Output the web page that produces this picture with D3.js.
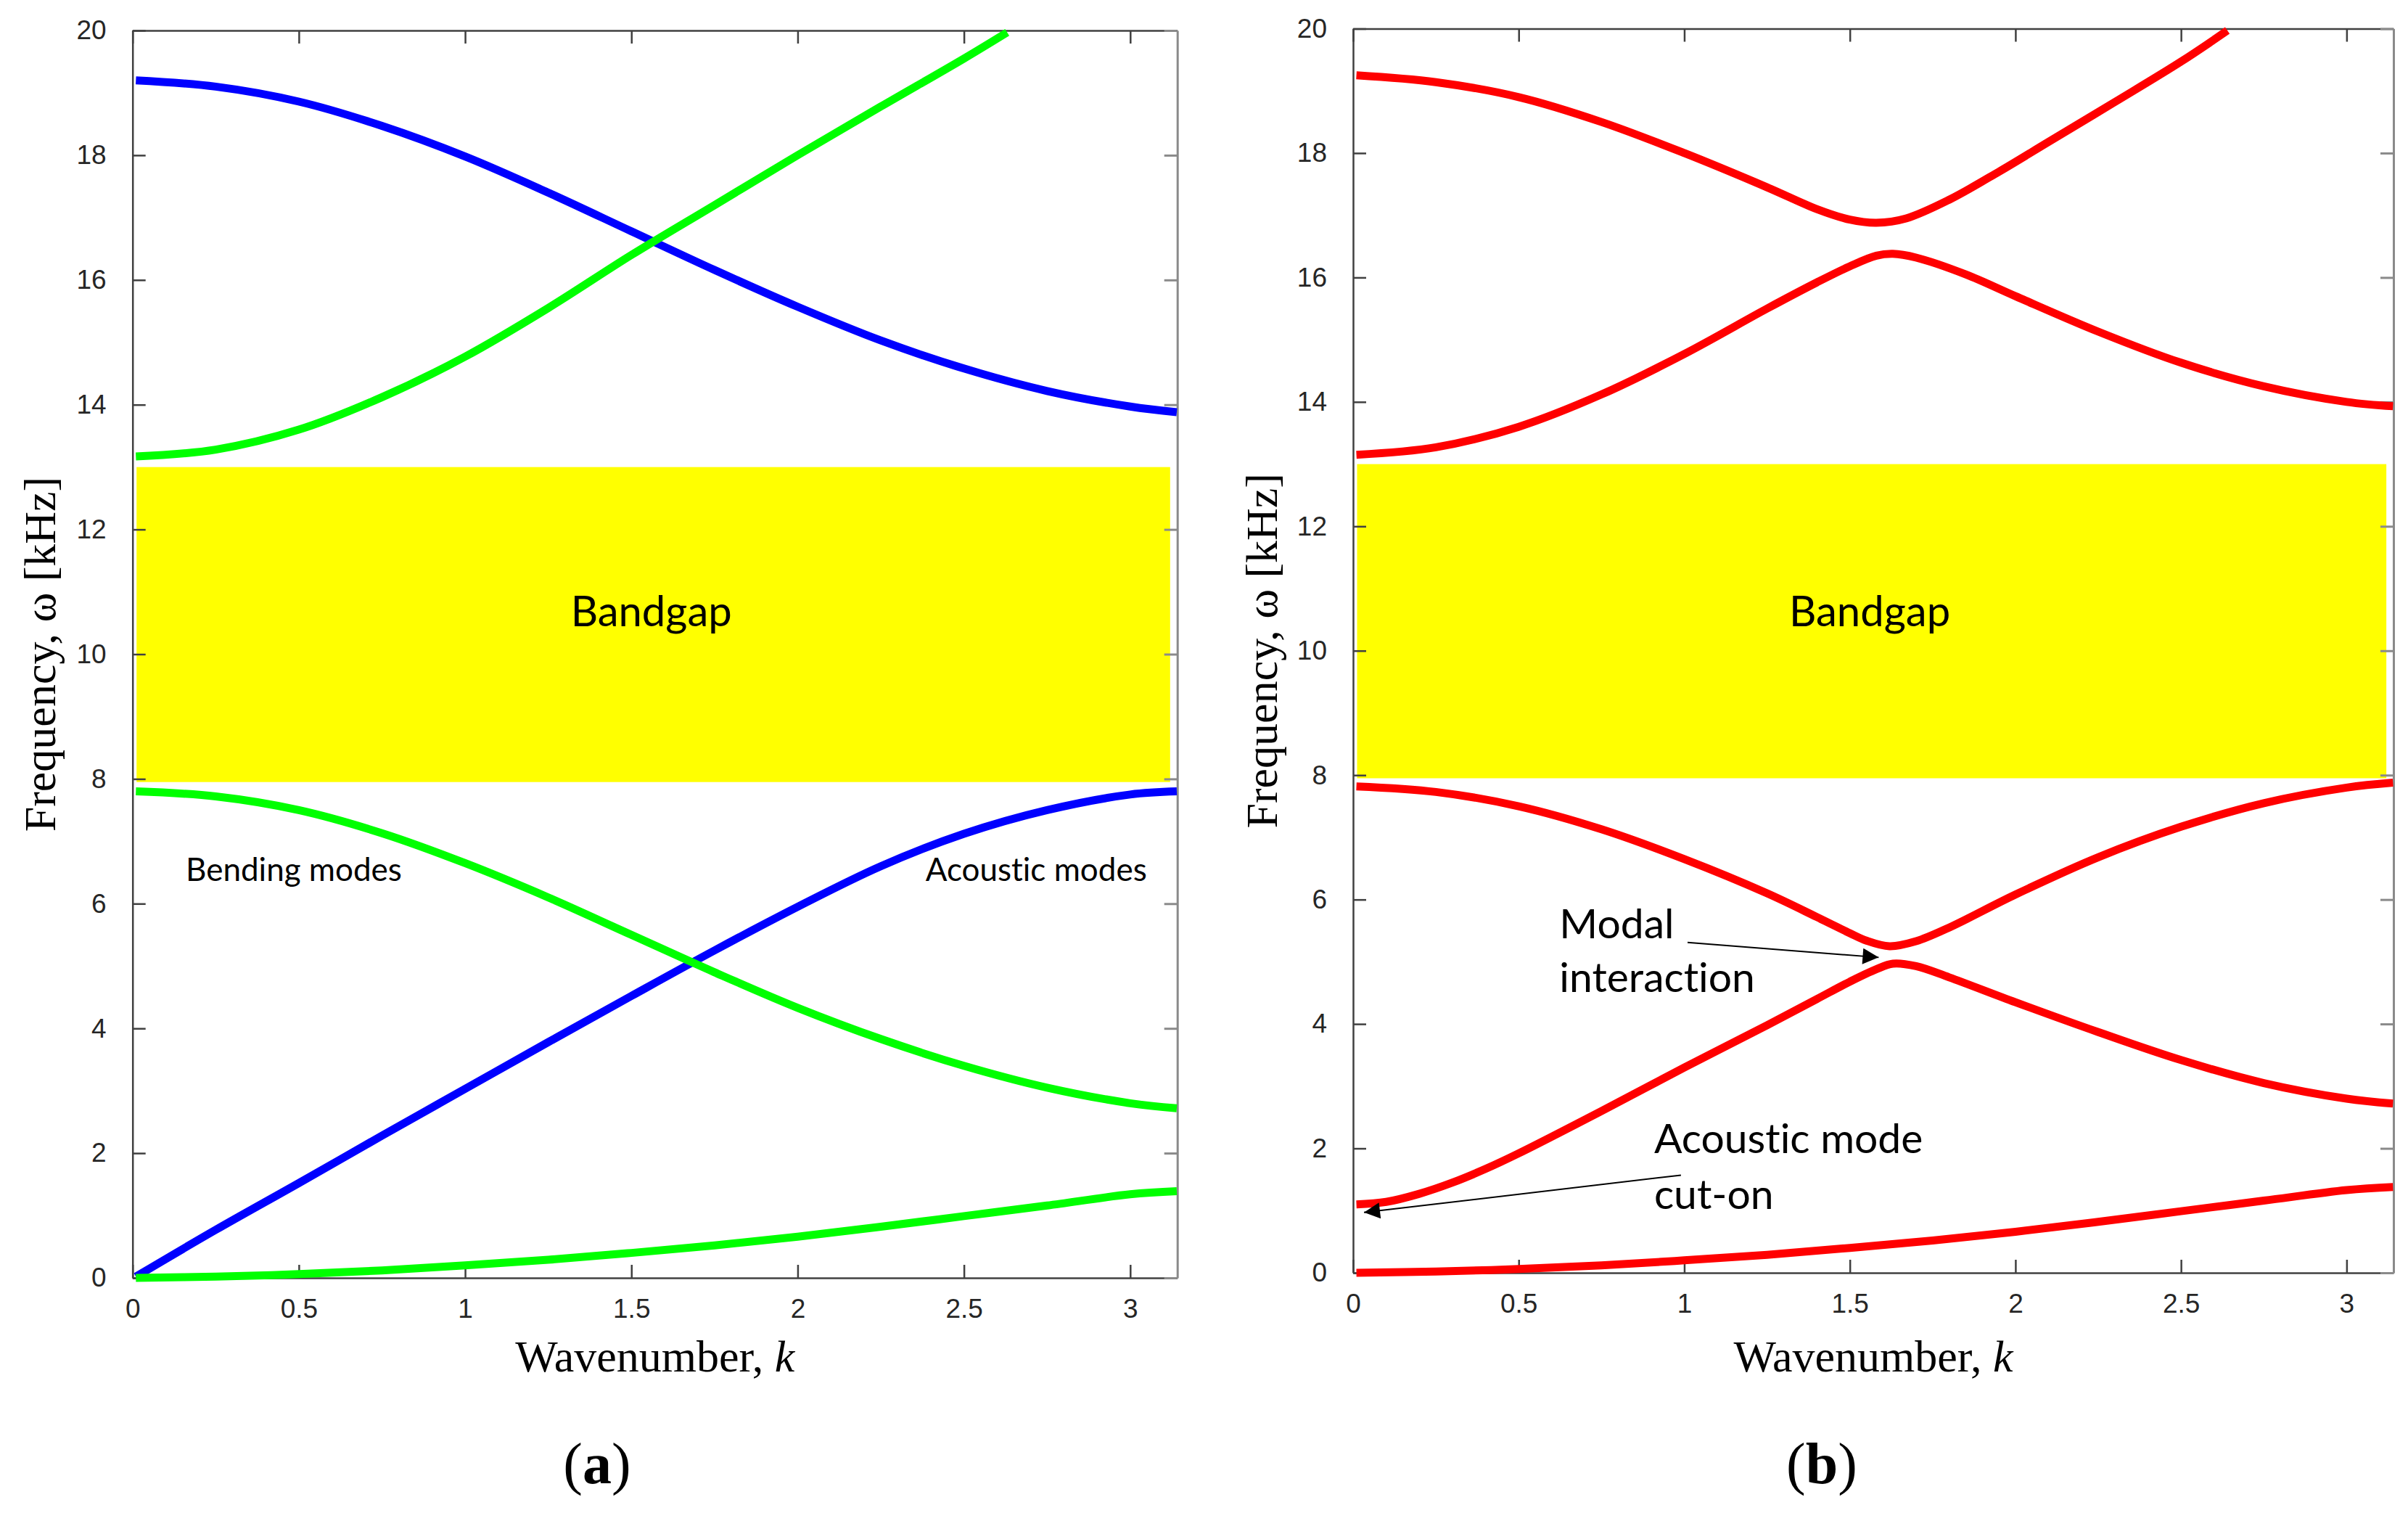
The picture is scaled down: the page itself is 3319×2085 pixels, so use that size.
<!DOCTYPE html>
<html><head><meta charset="utf-8">
<script src="https://cdn.jsdelivr.net/npm/d3@7"></script>
<style>body{margin:0;background:#fff}svg{display:block}text{font-variant-ligatures:none;font-feature-settings:"liga" 0,"clig" 0}</style>
</head><body>
<svg id="chart" width="3319" height="2085"></svg>
<script>
// ---------- data ----------
const kTicks = [0, 0.5, 1, 1.5, 2, 2.5, 3];
const fTicks = [0, 2, 4, 6, 8, 10, 12, 14, 16, 18, 20];
const kDomain = [0, Math.PI];
const fDomain = [0, 20];
const bandgapK = [0.012, 3.12];
const bandgapF = [7.95, 13.0];

// panel (a): uncoupled modes
const aBlueUpper = [[0.01,19.2],[0.25,19.1],[0.5,18.86],[0.75,18.47],[1,17.98],[1.25,17.4],[1.5,16.78],[1.75,16.16],[2,15.57],[2.25,15.03],[2.5,14.58],[2.75,14.22],[3,13.97],[3.14,13.88]];
const aGreenUpper = [[0.01,13.17],[0.25,13.28],[0.5,13.6],[0.75,14.12],[1,14.77],[1.25,15.55],[1.5,16.4],[1.75,17.2],[2,18.0],[2.25,18.78],[2.5,19.55],[2.63,19.97]];
const aBlueLower = [[0.01,0.02],[0.25,0.77],[0.5,1.52],[0.75,2.28],[1,3.03],[1.25,3.78],[1.5,4.52],[1.75,5.25],[2,5.95],[2.25,6.6],[2.5,7.12],[2.75,7.5],[3,7.75],[3.14,7.8]];
const aGreenMiddle = [[0.01,7.8],[0.25,7.72],[0.5,7.5],[0.75,7.13],[1,6.65],[1.25,6.1],[1.5,5.5],[1.75,4.9],[2,4.33],[2.25,3.83],[2.5,3.4],[2.75,3.05],[3,2.8],[3.14,2.72]];
const aGreenLower = [[0.01,0.0],[0.25,0.02],[0.5,0.06],[0.75,0.12],[1,0.2],[1.25,0.29],[1.5,0.4],[1.75,0.52],[2,0.66],[2.25,0.82],[2.5,0.99],[2.75,1.16],[3,1.34],[3.14,1.39]];

// panel (b): coupled modes
const bRed1 = [[0.01,19.25],[0.25,19.14],[0.5,18.9],[0.75,18.5],[1,18.0],[1.25,17.45],[1.4,17.1],[1.5,16.93],[1.58,16.88],[1.67,16.95],[1.8,17.25],[1.95,17.7],[2.1,18.18],[2.3,18.82],[2.5,19.47],[2.64,19.97]];
const bRed2 = [[0.01,13.15],[0.25,13.27],[0.5,13.6],[0.75,14.12],[1,14.77],[1.25,15.5],[1.4,15.92],[1.5,16.18],[1.58,16.35],[1.63,16.38],[1.7,16.32],[1.85,16.05],[2,15.7],[2.25,15.13],[2.5,14.63],[2.75,14.25],[3,14.0],[3.14,13.93]];
const bRed3 = [[0.01,7.82],[0.25,7.73],[0.5,7.5],[0.75,7.13],[1,6.65],[1.25,6.1],[1.4,5.72],[1.5,5.46],[1.55,5.34],[1.62,5.25],[1.7,5.33],[1.8,5.55],[2,6.08],[2.25,6.68],[2.5,7.17],[2.75,7.55],[3,7.8],[3.14,7.88]];
const bRed4 = [[0.01,1.1],[0.1,1.14],[0.2,1.27],[0.3,1.45],[0.4,1.67],[0.5,1.92],[0.75,2.6],[1,3.3],[1.25,3.98],[1.4,4.4],[1.5,4.68],[1.58,4.88],[1.63,4.97],[1.7,4.93],[1.8,4.75],[2,4.35],[2.25,3.87],[2.5,3.42],[2.75,3.05],[3,2.8],[3.14,2.72]];
const bRed5 = [[0.01,0.0],[0.25,0.02],[0.5,0.06],[0.75,0.12],[1,0.2],[1.25,0.29],[1.5,0.4],[1.75,0.52],[2,0.66],[2.25,0.82],[2.5,0.99],[2.75,1.16],[3,1.33],[3.14,1.38]];

// ---------- drawing ----------
const svg = d3.select("#chart");
const panels = [
  {x0:182.7, x1:1622.7, y0:1761, y1:42, caption:"a", capX:823, yTitleX:56,
   series:[[aBlueUpper,"#0000ff"],[aGreenUpper,"#00ff00"],[aBlueLower,"#0000ff"],[aGreenMiddle,"#00ff00"],[aGreenLower,"#00ff00"]]},
  {x0:1865, x1:3299, y0:1754, y1:39.5, caption:"b", capX:2511, yTitleX:1740,
   series:[[bRed1,"#ff0000"],[bRed2,"#ff0000"],[bRed3,"#ff0000"],[bRed4,"#ff0000"],[bRed5,"#ff0000"]]}
];

const defs = svg.append("defs");
defs.append("marker").attr("id","ah").attr("viewBox","0 0 10 10").attr("refX",10).attr("refY",5)
  .attr("markerWidth",24).attr("markerHeight",22).attr("markerUnits","userSpaceOnUse").attr("orient","auto")
  .append("path").attr("d","M0,0 L10,5 L0,10 Z").attr("fill","#000");

panels.forEach((p, i) => {
  const x = d3.scaleLinear().domain(kDomain).range([p.x0, p.x1]);
  const y = d3.scaleLinear().domain(fDomain).range([p.y0, p.y1]);
  const g = svg.append("g");
  const tl = 18;

  // bandgap
  g.append("rect").attr("x", x(bandgapK[0])).attr("y", y(bandgapF[1]))
    .attr("width", x(bandgapK[1]) - x(bandgapK[0])).attr("height", y(bandgapF[0]) - y(bandgapF[1]))
    .attr("fill", "#ffff00");

  // axes (MATLAB-style box with inward ticks)
  const axB = d3.axisBottom(x).tickValues(kTicks).tickSizeInner(-tl).tickSizeOuter(0).tickPadding(29).tickFormat(d3.format("~g"));
  const axT = d3.axisTop(x).tickValues(kTicks).tickSizeInner(-tl).tickSizeOuter(0).tickFormat("");
  const axL = d3.axisLeft(y).tickValues(fTicks).tickSizeInner(-tl).tickSizeOuter(0).tickPadding(18 + tl).tickFormat(d3.format("~g"));
  const axR = d3.axisRight(y).tickValues(fTicks).tickSizeInner(-tl).tickSizeOuter(0).tickFormat("");
  const gb = g.append("g").attr("transform", `translate(0,${p.y0})`).call(axB);
  const gt = g.append("g").attr("transform", `translate(0,${p.y1})`).call(axT);
  const gl = g.append("g").attr("transform", `translate(${p.x0},0)`).call(axL);
  const gr = g.append("g").attr("transform", `translate(${p.x1},0)`).call(axR);
  [gb, gt, gl].forEach(a => a.selectAll("path,line").attr("stroke", "#404040").attr("stroke-width", 2.5));
  gr.selectAll("path,line").attr("stroke", "#8a8a8a").attr("stroke-width", 3);
  [gb, gl].forEach(a => a.selectAll("text").attr("font-family", "'Liberation Sans', Arial, sans-serif")
    .attr("font-size", 37).attr("fill", "#262626"));
  gb.selectAll("text").attr("dy", "0.71em");

  // curves
  const line = d3.line().x(d => x(d[0])).y(d => y(d[1])).curve(d3.curveCatmullRom.alpha(0.5));
  p.series.forEach(([data, color]) => {
    g.append("path").datum(data).attr("d", line).attr("fill", "none")
      .attr("stroke", color).attr("stroke-width", 11).attr("stroke-linecap", "butt").attr("stroke-linejoin", "round");
  });

  // axis titles
  g.append("text").attr("transform", `translate(${p.yTitleX},${(p.y0 + p.y1) / 2}) rotate(-90)`)
    .attr("text-anchor", "middle").attr("dy", "0.33em")
    .attr("font-family", "'Liberation Serif', 'Times New Roman', serif").attr("font-size", 62).attr("fill", "#000")
    .text("Frequency, ω [kHz]");
  const xt = g.append("text").attr("x", (p.x0 + p.x1) / 2).attr("y", 1890).attr("text-anchor", "middle")
    .attr("font-family", "'Liberation Serif', 'Times New Roman', serif").attr("font-size", 62).attr("fill", "#000");
  xt.append("tspan").text("Wavenumber, ");
  xt.append("tspan").attr("font-style", "italic").text("k");

  // caption
  const cap = g.append("text").attr("x", p.capX).attr("y", 2044).attr("text-anchor", "middle")
    .attr("font-family", "'Liberation Serif', 'Times New Roman', serif").attr("font-size", 80);
  cap.append("tspan").text("(");
  cap.append("tspan").attr("font-weight", "bold").text(p.caption);
  cap.append("tspan").text(")");

  // bandgap label
  g.append("text").attr("x", x(1.56)).attr("y", y(10.45) + (i === 0 ? 0 : 5)).attr("text-anchor", "middle")
    .attr("font-family", "Lato, 'Open Sans', sans-serif").attr("font-size", 58).attr("fill", "#000").text("Bandgap");

  const ann = (k, f, t, size, anchor) => g.append("text").attr("x", x(k)).attr("y", y(f))
    .attr("text-anchor", anchor || "start").attr("font-family", "Lato, 'Open Sans', sans-serif")
    .attr("font-size", size).attr("fill", "#000").text(t);

  if (i === 0) {
    ann(0.16, 6.36, "Bending modes", 44);
    ann(3.05, 6.36, "Acoustic modes", 44, "end");
  } else {
    ann(0.623, 5.38, "Modal", 57);
    ann(0.623, 4.51, "interaction", 57);
    ann(0.909, 1.93, "Acoustic mode", 57);
    ann(0.909, 1.03, "cut-on", 57);
    g.append("line").attr("x1", x(1.01)).attr("y1", y(5.31)).attr("x2", x(1.587)).attr("y2", y(5.07))
      .attr("stroke", "#000").attr("stroke-width", 2).attr("marker-end", "url(#ah)");
    g.append("line").attr("x1", x(0.99)).attr("y1", y(1.57)).attr("x2", x(0.033)).attr("y2", y(0.97))
      .attr("stroke", "#000").attr("stroke-width", 2).attr("marker-end", "url(#ah)");
  }
});
</script>
</body></html>
